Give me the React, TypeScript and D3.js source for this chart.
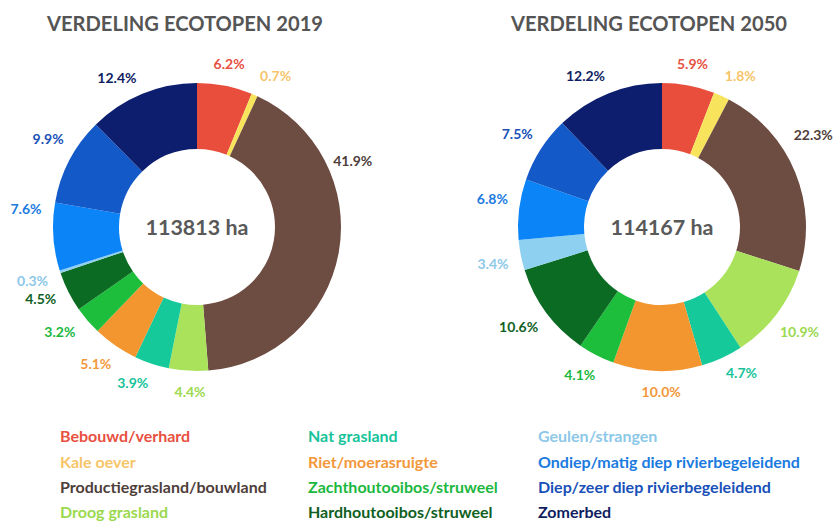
import React from "react";
import * as d3 from "d3";

const categories = [
  "Bebouwd/verhard",
  "Kale oever",
  "Productiegrasland/bouwland",
  "Droog grasland",
  "Nat grasland",
  "Riet/moerasruigte",
  "Zachthoutooibos/struweel",
  "Hardhoutooibos/struweel",
  "Geulen/strangen",
  "Ondiep/matig diep rivierbegeleidend",
  "Diep/zeer diep rivierbegeleidend",
  "Zomerbed",
];
const values2019 = [6.2, 0.7, 41.9, 4.4, 3.9, 5.1, 3.2, 4.5, 0.3, 7.6, 9.9, 12.4];
const values2050 = [5.9, 1.8, 22.3, 10.9, 4.7, 10.0, 4.1, 10.6, 3.4, 6.8, 7.5, 12.2];
const totals = ["113813 ha", "114167 ha"];
const titles = ["VERDELING ECOTOPEN 2019", "VERDELING ECOTOPEN 2050"];

// styling (kept separate from data)
const sliceColors = [
  "#E94E3C", "#F7E45C", "#6D4C42", "#AAE35B", "#16C99B", "#F3962F",
  "#1DBE3C", "#0B6B23", "#8ED0F0", "#0A84F7", "#1459C8", "#0E1E6E",
];
const textColors = [
  "#E8503F", "#F6C56A", "#4E3E3A", "#9BD94F", "#17C39A", "#F3983A",
  "#1BB840", "#0F5F23", "#8CC8E8", "#1A7AE0", "#1850B8", "#0F1E5F",
];
// label angle nudges in degrees (layout, like Excel best-fit)
const labelShift2019 = [0, 4, -33, -1, 4, 2, 3, 2, 0, 10, 3, -6];
const labelShift2050 = [0, 3, -9, 0, -4, -1.5, 2, 1.5, -1, 2.5, 0, -5];
const labelExtra2019 = [-3, 1, 0, -4, 0, 1, 4, 3, 4, 3, 4, 0];
const labelExtra2050 = [-3, 1, 8, 4, -3, -4, 0, 6, 4, 3, 3, 0];

const FONT = "Lato, 'Open Sans', sans-serif";

function Donut({ values, cx, cy, total, title, shifts, extras, titleX }: any) {
  const outer = 144;
  const inner = 78;
  const pie = d3.pie<number>().sort(null).value((d) => d).startAngle(0).endAngle(2 * Math.PI);
  const arcs = pie(values);
  const arc = d3.arc<d3.PieArcDatum<number>>().innerRadius(inner).outerRadius(outer);
  const labelR = 169;
  return (
    <g>
      <text
        x={titleX}
        y={31}
        fontFamily={FONT}
        fontWeight={700}
        fontSize={20.5}
        fill="#555555"
        textLength={276}
        lengthAdjust="spacingAndGlyphs"
      >
        {title}
      </text>
      <g transform={`translate(${cx},${cy})`}>
        {arcs.map((a, i) => (
          <path key={i} d={arc(a) || ""} fill={sliceColors[i]} />
        ))}
        {arcs.map((a, i) => {
          const mid = (a.startAngle + a.endAngle) / 2 + (shifts[i] * Math.PI) / 180;
          const r = labelR + extras[i];
          const x = Math.sin(mid) * r;
          const y = -Math.cos(mid) * r;
          return (
            <text
              key={"l" + i}
              x={x}
              y={y}
              dy="0.36em"
              textAnchor="middle"
              fontFamily={FONT}
              fontWeight={700}
              fontSize={14}
              fill={textColors[i]}
            >
              {d3.format(".1f")(values[i]) + "%"}
            </text>
          );
        })}
        <text
          x={0}
          y={0}
          dy="0.36em"
          textAnchor="middle"
          fontFamily={FONT}
          fontWeight={700}
          fontSize={21.5}
          fill="#595959"
        >
          {total}
        </text>
      </g>
    </g>
  );
}

export default function App() {
  const legendCols = [60, 308, 538];
  const legendRows = [442, 467.5, 493, 518];
  return (
    <svg
      width={836}
      height={521}
      style={{ position: "absolute", left: 0, top: 0, background: "#fff" }}
    >
      <rect width={836} height={521} fill="#fff" />
      <Donut values={values2019} cx={197} cy={227} total={totals[0]} title={titles[0]} shifts={labelShift2019} extras={labelExtra2019} titleX={47} />
      <Donut values={values2050} cx={662} cy={227} total={totals[1]} title={titles[1]} shifts={labelShift2050} extras={labelExtra2050} titleX={511} />
      {categories.map((c, i) => (
        <text
          key={c}
          x={legendCols[Math.floor(i / 4)]}
          y={legendRows[i % 4]}
          fontFamily={FONT}
          fontWeight={700}
          fontSize={16}
          fill={textColors[i]}
        >
          {c}
        </text>
      ))}
    </svg>
  );
}
